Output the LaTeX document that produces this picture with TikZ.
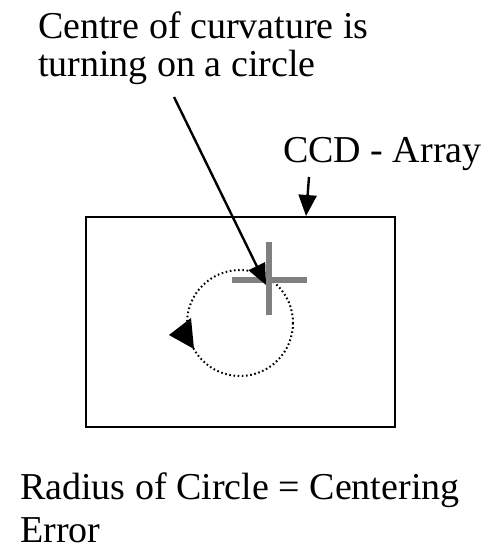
\documentclass[tikz,border=0pt]{standalone}
\usepackage{fontspec}
\setmainfont{Liberation Serif}
\usetikzlibrary{arrows.meta, positioning}

\begin{document}
\begin{tikzpicture}[x=1pt, y=-1pt,
    lbl/.style={font=\fontsize{38}{38}\selectfont, align=left, inner sep=0pt},
    pointer/.style={-{Triangle[length=21pt, width=18pt]}, line width=2.4pt},
    crossbar/.style={gray, line width=6pt}]
    \useasboundingbox (0,0) rectangle (488,548);
    % ccd array
    \draw[line width=2.8pt] (86,217) rectangle (395,427);
    \node[lbl, anchor=base west] (ccd) at (283,162) {CCD - Array};
    \coordinate (ccdtail) at (309,177);
    \coordinate (ccdtop) at (306,216);
    \draw[pointer] (ccdtail) -- (ccdtop);
    % centre of curvature path
    \coordinate (cc) at (240,323);
    \draw[line width=2pt, dash pattern=on 1.6pt off 2.6pt] (cc) circle (53);
    \fill (169,335) -- (191,318) -- (194,349) -- cycle;
    % cross at current centre
    \coordinate (mark) at (269,280);
    \draw[crossbar] (232,280) -- (307,280);
    \draw[crossbar] (269,242) -- (269,315);
    % labels (base = last line)
    \node[lbl, anchor=base west] (centre) at (38,77) {Centre of curvature is\\turning on a circle};
    \coordinate (from) at (174,97);
    \draw[pointer] (from) -- (266,285);
    \node[lbl, anchor=base west, font=\fontsize{38}{43}\selectfont] (radius) at (20,542) {Radius of Circle = Centering\\Error};
\end{tikzpicture}
\end{document}
